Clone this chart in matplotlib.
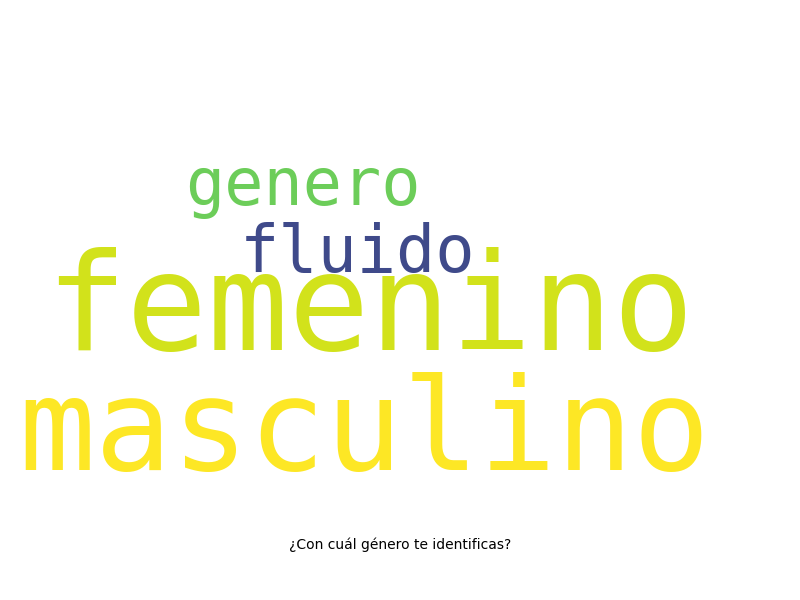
import matplotlib
matplotlib.use("Agg")
import matplotlib.pyplot as plt

words = ["femenino", "masculino", "genero", "fluido"]
colors = ["#d2e21b", "#fde725", "#6ccd59", "#3f4a8a"]
sizes = [97, 92, 47, 47]
# left x, baseline y in pixel fractions (layout)
xs = [45/800, 18/800, 185/800, 240/800]
ys = [1-350/600, 1-470/600, 1-205/600, 1-272/600]

fig = plt.figure(figsize=(8, 6), dpi=100)
for w, c, s, x, y in zip(words, colors, sizes, xs, ys):
    fig.text(x, y, w, color=c, fontsize=s, family="DejaVu Sans Mono",
             ha="left", va="baseline")
fig.text(0.5, 1-545/600, "¿Con cuál género te identificas?", ha="center",
         va="center", fontsize=10)
fig.savefig("out.png", dpi=100)
